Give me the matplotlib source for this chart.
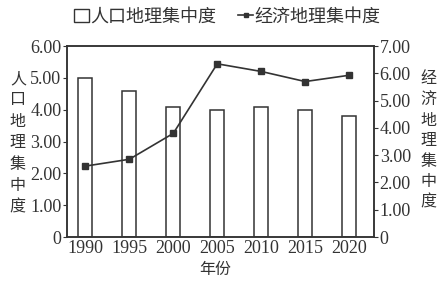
import numpy as np
import matplotlib
matplotlib.use('Agg')
import matplotlib.pyplot as plt
from matplotlib.lines import Line2D
from matplotlib.patches import Patch

plt.rcParams['font.family'] = ['Liberation Serif', 'Noto Sans CJK SC']

years = ['1990', '1995', '2000', '2005', '2010', '2015', '2020']
pop_conc = [5.0, 4.6, 4.1, 4.0, 4.1, 4.0, 3.8]        # 人口地理集中度 (left)
econ_conc = [2.6, 2.85, 3.8, 6.35, 6.07, 5.7, 5.93]   # 经济地理集中度 (right)
left_ticks = [0, 1, 2, 3, 4, 5, 6]
right_ticks = [0, 1, 2, 3, 4, 5, 6, 7]

ink = '#333333'
fig = plt.figure(figsize=(4.46, 2.88), dpi=100)
ax = fig.add_axes([0.150, 0.177, 0.689, 0.663])
x = np.arange(len(years))
ax.bar(x, pop_conc, 0.32, facecolor='white', edgecolor=ink, lw=1.1)
ax.set_xlim(-0.42, 6.57)
ax.set_ylim(0, 6)
ax.set_yticks(left_ticks)
ax.set_yticklabels(['0'] + [f'{v:.2f}' for v in left_ticks[1:]])
ax.set_xticks(x)
ax.set_xticklabels(years)
ax.tick_params(axis='x', length=0, pad=2, labelsize=13, colors=ink)
ax.tick_params(axis='y', length=3, pad=1, labelsize=13, colors=ink)

ax2 = ax.twinx()
ax2.plot(x, econ_conc, color=ink, lw=1.2, marker='s', ms=4)
ax2.set_ylim(0, 7)
ax2.set_yticks(right_ticks)
ax2.set_yticklabels(['0'] + [f'{v:.2f}' for v in right_ticks[1:]])
ax2.tick_params(axis='y', length=3, pad=1, labelsize=13, colors=ink)
for a in (ax, ax2):
    for s in a.spines.values():
        s.set_color(ink); s.set_linewidth(1.1)

fig.text(0.040, 0.503, '\n'.join('人口地理集中度'), ha='center', va='center',
         fontsize=11.5, linespacing=1.45, color=ink)
fig.text(0.960, 0.510, '\n'.join('经济地理集中度'), ha='center', va='center',
         fontsize=11.5, linespacing=1.38, color=ink)
fig.text(0.482, 0.062, '年份', ha='center', va='center', fontsize=11.5, color=ink)

handles = [Patch(facecolor='white', edgecolor=ink, lw=1.0),
           Line2D([0], [0], color=ink, lw=1.2, marker='s', ms=3.5)]
fig.legend(handles, ['人口地理集中度', '经济地理集中度'], loc='center',
           bbox_to_anchor=(0.51, 0.94), ncol=2, frameon=False, fontsize=13,
           handlelength=0.8, handleheight=0.7, handletextpad=0.1, columnspacing=1.2,
           labelcolor=ink)

fig.savefig('out.png', dpi=100)
